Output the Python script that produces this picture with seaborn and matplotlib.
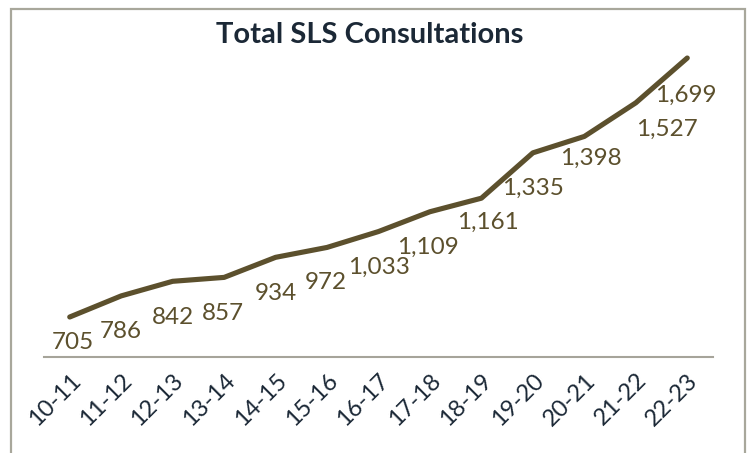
import matplotlib.pyplot as plt
import seaborn as sns
import pandas as pd
from matplotlib.patches import Rectangle

# data
years = ['10-11', '11-12', '12-13', '13-14', '14-15', '15-16', '16-17',
         '17-18', '18-19', '19-20', '20-21', '21-22', '22-23']
consults = [705, 786, 842, 857, 934, 972, 1033, 1109, 1161, 1335, 1398, 1527, 1699]

# label nudges (pixels right, pixels below the point)
label_dx = [3, 0, 0, -1, 0, -1, 0, -2, 6, 0, 7, 31, -1]
label_dy = [25, 36, 36, 36, 36, 35, 36, 36, 24, 35, 22, 27, 37]

df = pd.DataFrame({'year': years, 'n': consults})
df['x'] = range(len(df))

sns.set_style('white')
plt.rcParams['font.family'] = ['Lato', 'DejaVu Sans']

line_col = '#5c502d'
text_col = '#5c502d'
navy = '#1b2836'

fig = plt.figure(figsize=(7.51, 4.53), dpi=100)
ax = fig.add_axes([44/751, 1-357/453, (713-44)/751, (357-50)/453])

sns.lineplot(data=df, x='x', y='n', ax=ax, color=line_col, linewidth=3.7,
             solid_capstyle='round', solid_joinstyle='round')

for i, v in enumerate(consults):
    ax.annotate(f'{v:,}', (i, v), xytext=(label_dx[i]*0.72, -label_dy[i]*0.72),
                textcoords='offset points', ha='center', va='center',
                fontsize=17.5, color=text_col)

ax.set_xlim(-0.5, len(years)-0.5)
ax.set_ylim(551.5, 1729.7)
ax.set_xticks(range(len(years)))
ax.set_xticklabels(years, rotation=45, ha='right', rotation_mode='anchor',
                   fontsize=17, color=navy)
ax.tick_params(axis='x', length=0, pad=9)
ax.set_yticks([])
ax.set_xlabel('')
ax.set_ylabel('')
for s in ['left', 'right', 'top']:
    ax.spines[s].set_visible(False)
ax.spines['bottom'].set_color('#a6a49a')
ax.spines['bottom'].set_linewidth(1.5)

fig.text(370/751, 1-35/453, 'Total SLS Consultations', ha='center', va='center',
         fontsize=21, fontweight='bold', color=navy)

# outer frame (bottom edge off the picture)
fig.add_artist(Rectangle((11/751, -0.1), (745-11)/751, 1.1-9/453,
                         transform=fig.transFigure, fill=False,
                         edgecolor='#a8a79b', linewidth=1.6))

fig.savefig('out.png', dpi=100)
